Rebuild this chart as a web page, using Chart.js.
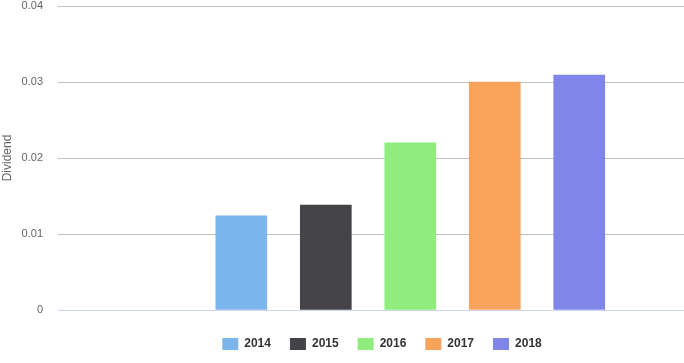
<!DOCTYPE html>
<html>
<head>
<meta charset="utf-8">
<script src="https://cdn.jsdelivr.net/npm/chart.js@4/dist/chart.umd.min.js"></script>
<style>
  html, body { margin: 0; padding: 0; background: #fff; }
  #wrap { width: 684px; height: 363px; }
</style>
</head>
<body>
<div id="wrap"><canvas id="myChart" width="684" height="363"></canvas></div>
<script>
const years = ["2014", "2015", "2016", "2017", "2018"];
const dividends = [0.0124, 0.0138, 0.022, 0.03, 0.0309];
const colors = ["#7cb5ec", "#434348", "#90ed7d", "#f7a35c", "#8085e9"];
const yTicks = [0, 0.01, 0.02, 0.03, 0.04];

const ctx = document.getElementById("myChart").getContext("2d");

const datasets = years.map(function (year, i) {
  return {
    label: year,
    data: [{ x: i, y: dividends[i] }],
    backgroundColor: colors[i],
    borderWidth: 0,
    grouped: false,
    barThickness: 51,
  };
});

// legend sits a bit right of centre in the original
const legendShift = {
  id: "legendShift",
  afterLayout: function (chart) {
    chart.legend.left += 40;
    chart.legend.right += 40;
  },
};

const myChart = new Chart(ctx, {
  type: "bar",
  data: { datasets: datasets },
  plugins: [legendShift],
  options: {
    responsive: false,
    animation: false,
    layout: { padding: { left: 0, right: 0, top: 0, bottom: 3 } },
    scales: {
      x: {
        type: "linear",
        offset: false,
        min: -2.17,
        max: 5.24,
        grid: { display: false, drawTicks: false },
        ticks: { display: false, stepSize: 1 },
        border: { color: "#ccd6eb", width: 1 },
        afterFit: function (axis) {
          axis.height = 9;
        },
      },
      y: {
        min: yTicks[0],
        max: yTicks[yTicks.length - 1],
        afterBuildTicks: function (axis) {
          axis.ticks = yTicks.map(function (v) { return { value: v }; });
        },
        afterFit: function (axis) {
          axis.width = 58;
          axis.paddingTop = 6;
          axis.paddingBottom = 0;
        },
        grid: {
          drawTicks: false,
          color: function (c) {
            return c.tick && c.tick.value === 0 ? "rgba(0,0,0,0)" : "#c0c0c0";
          },
        },
        border: { display: false },
        ticks: {
          padding: 15,
          color: "#666666",
          font: { family: "'Liberation Sans', Arial, sans-serif", size: 11 },
        },
        title: {
          display: true,
          text: "Dividend",
          color: "#666666",
          padding: { top: 0, bottom: 6 },
          font: { family: "'Liberation Sans', Arial, sans-serif", size: 12 },
        },
      },
    },
    plugins: {
      legend: {
        position: "bottom",
        labels: {
          boxWidth: 16,
          boxHeight: 12,
          padding: 19,
          color: "#333333",
          font: { family: "'Liberation Sans', Arial, sans-serif", size: 12, weight: "bold" },
        },
      },
      tooltip: { enabled: false },
    },
  },
});
</script>
</body>
</html>
